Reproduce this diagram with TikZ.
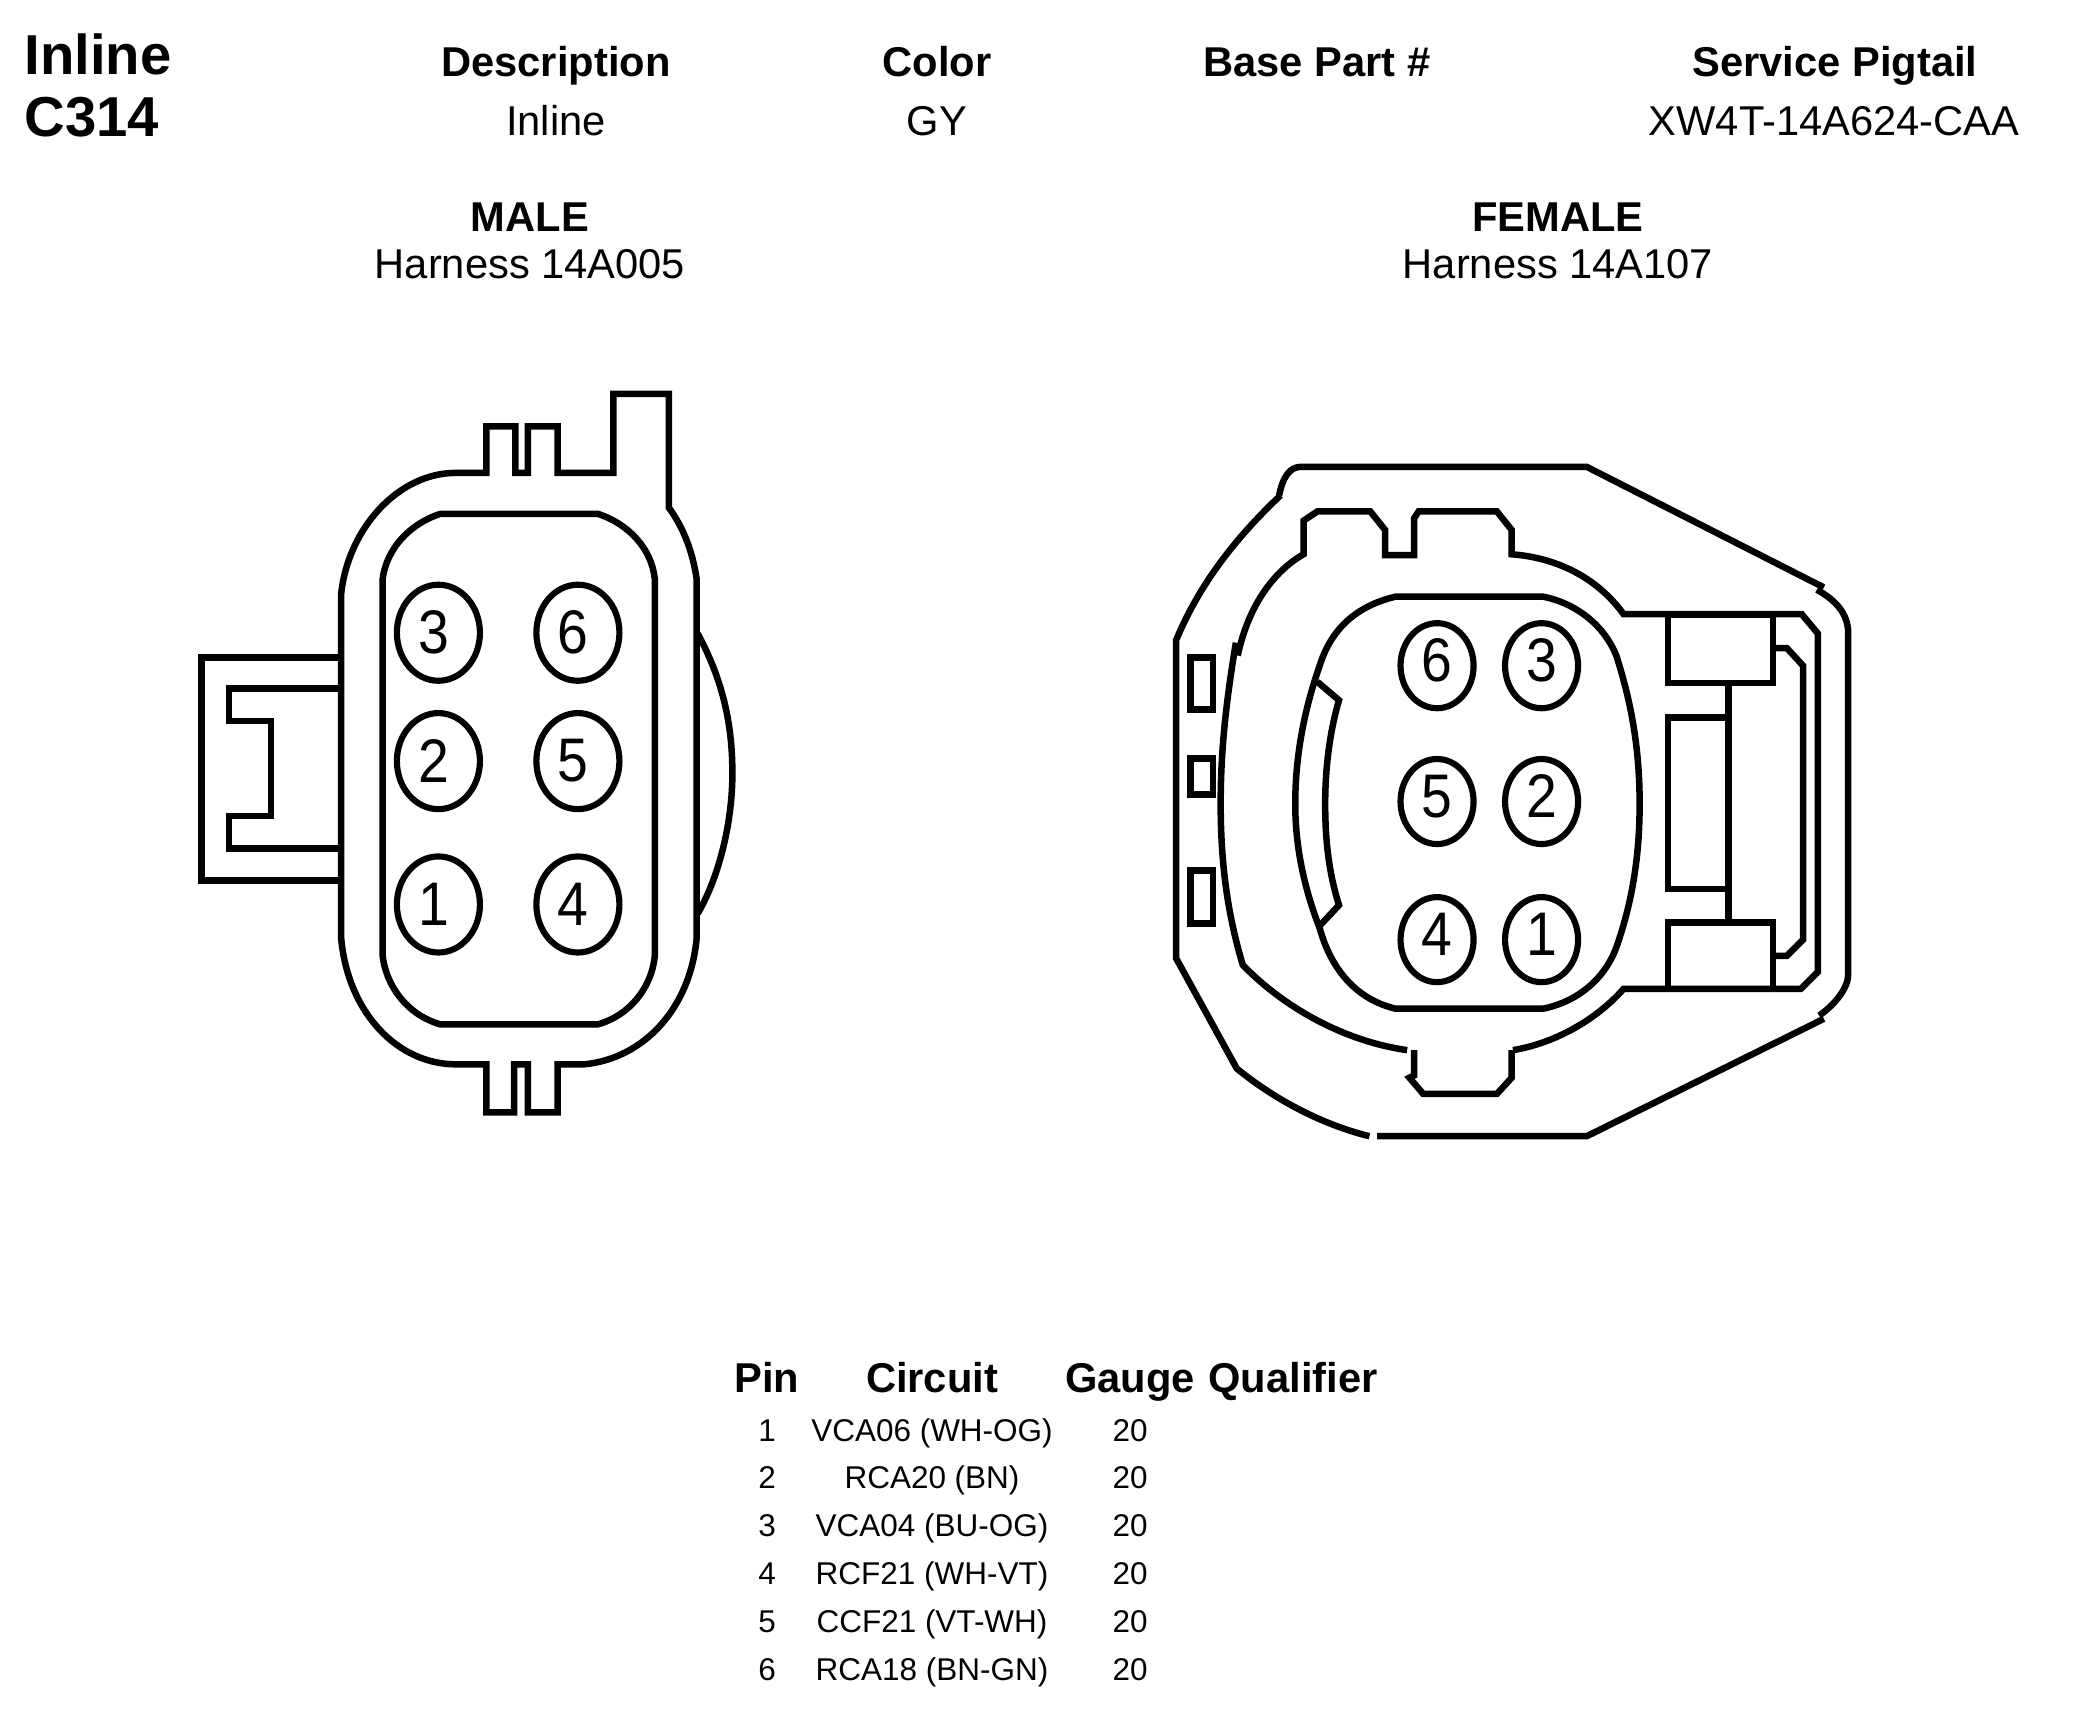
\documentclass[tikz,border=0pt]{standalone}
\usepackage{fontspec}
\usepackage{graphicx}
\setmainfont{Liberation Sans}
\usetikzlibrary{shapes.geometric}
\tikzset{
  plug/.style={line width=1.85pt,line join=miter},
  pinm/.style={ellipse,draw,line width=1.75pt,inner sep=0pt,minimum width=.83cm,minimum height=.96cm,font=\fontsize{17.5}{18}\selectfont},
  pinf/.style={pinm,minimum width=.73cm,minimum height=.85cm},
  head/.style={anchor=base,font=\fontsize{11.85}{14}\selectfont\bfseries},
  info/.style={anchor=base,font=\fontsize{11.85}{14}\selectfont},
  big/.style={anchor=base west,font=\fontsize{16}{18}\selectfont\bfseries},
  cell/.style={anchor=base,font=\fontsize{8.95}{11}\selectfont}
}
\begin{document}
\begin{tikzpicture}[x=.01cm,y=-.01cm]
\useasboundingbox (0,0) rectangle (2076,1724);
% title block
\node[big] (t1) at (12,74) {Inline};
\node[big] (t2) at (12,136) {C314};
\node[head] (h1) at (556,76) {Description};
\node[head] (h2) at (937,76) {Color};
\node[head] (h3) at (1317,76) {Base Part \#};
\node[head] (h4) at (1835,76) {Service Pigtail};
\node[info] (v1) at (556,135) {Inline};
\node[info] (v2) at (937,135) {GY};
\node[info] (v4) at (1834,135) {XW4T-14A624-CAA};
\node[head] (m1) at (530,231) {MALE};
\node[info] (m2) at (530,278) {Harness 14A005};
\node[head] (f1) at (1558,231) {FEMALE};
\node[info] (f2) at (1558,278) {Harness 14A107};
% male connector
\begin{scope}[shift={(179,369)},xscale=.3843,yscale=.4995]
\draw[plug] (800,208) -- (720,208) .. controls (570,208) and (440,320) .. (422,450) -- (422,1140)
  .. controls (440,1290) and (570,1392) .. (720,1392) -- (800,1392) -- (800,1488) -- (872,1488) -- (872,1392)
  -- (908,1392) -- (908,1488) -- (985,1488) -- (985,1392) -- (1055,1392)
  .. controls (1210,1380) and (1330,1280) .. (1347,1140) -- (1347,420)
  .. controls (1335,360) and (1310,315) .. (1275,278) -- (1275,50) -- (1130,50) -- (1130,208) -- (985,208)
  -- (985,115) -- (908,115) -- (908,208) -- (875,208) -- (875,115) -- (800,115) -- cycle;
\draw[plug] (680,290) -- (1090,290) .. controls (1170,310) and (1230,360) .. (1238,420) -- (1238,1175)
  .. controls (1230,1240) and (1170,1295) .. (1090,1312) -- (680,1312)
  .. controls (600,1295) and (540,1240) .. (530,1175) -- (530,420)
  .. controls (540,360) and (600,310) .. (680,290) -- cycle;
\draw[plug] (422,578) -- (58,578) -- (58,1024) -- (422,1024);
\draw[plug] (422,640) -- (130,640) -- (130,705) -- (240,705) -- (240,895) -- (130,895) -- (130,960) -- (422,960);
\draw[plug] (1350,530) .. controls (1420,630) and (1440,720) .. (1440,810) .. controls (1440,900) and (1410,1010) .. (1350,1090);
\foreach \n/\px/\py in {3/675/528,6/1038/528,2/675/785,5/1038/785,1/675/1072,4/1038/1072}
  \node[pinm] (male\n) at (\px,\py) {\scalebox{.9}[1]{\n}\kern2.7pt};
\end{scope}
% female connector
\begin{scope}[shift={(1158.5,449.3)},scale=.4604]
\draw[plug] (262,100) .. controls (270,60) and (285,38) .. (310,38) -- (930,38) -- (1445,300);
\draw[plug] (1430,305) .. controls (1475,330) and (1498,360) .. (1498,400) -- (1498,1140) .. controls (1498,1170) and (1470,1205) .. (1435,1230);
\draw[plug] (1445,1237) -- (930,1492) -- (475,1492);
\draw[plug] (458,1492) .. controls (350,1465) and (250,1410) .. (170,1345) -- (38,1105) -- (38,415)
  .. controls (90,290) and (170,190) .. (265,100);
\draw[plug] (172,448) .. controls (195,340) and (250,265) .. (315,228) -- (315,155) -- (345,135) -- (460,135) -- (492,175)
  -- (492,230) -- (555,230) -- (555,150) -- (565,135) -- (735,135) -- (767,175) -- (767,228)
  .. controls (860,235) and (950,275) .. (1010,358) -- (1397,358) -- (1432,400) -- (1432,1135) -- (1395,1172) -- (1010,1172)
  .. controls (950,1240) and (860,1290) .. (770,1305);
\draw[plug] (168,420) .. controls (145,560) and (135,660) .. (135,770) .. controls (135,900) and (150,1010) .. (183,1120)
  .. controls (270,1210) and (400,1285) .. (540,1305);
\draw[plug] (555,1305) -- (555,1360) -- (545,1365) -- (575,1400) -- (735,1400) -- (767,1365) -- (767,1305);
\draw[plug] (515,320) -- (835,320) .. controls (910,335) and (970,385) .. (995,450) .. controls (1030,560) and (1045,660) .. (1045,770)
  .. controls (1045,880) and (1030,980) .. (995,1080) .. controls (970,1150) and (910,1200) .. (835,1215) -- (515,1215)
  .. controls (430,1195) and (375,1130) .. (350,1040) .. controls (315,950) and (297,860) .. (297,770)
  .. controls (297,670) and (315,570) .. (350,470) .. controls (375,390) and (430,340) .. (515,320) -- cycle;
\draw[plug] (345,505) -- (392,545) .. controls (370,620) and (362,700) .. (362,770) .. controls (362,850) and (370,920) .. (392,990) -- (350,1035);
\draw[plug] (70,452) rectangle (118,565);
\draw[plug] (70,672) rectangle (118,750);
\draw[plug] (70,915) rectangle (118,1030);
\draw[plug] (1107,360) rectangle (1335,508);
\draw[plug] (1107,1028) rectangle (1335,1172);
\draw[plug] (1232,582) -- (1107,582) -- (1107,955) -- (1232,955);
\draw[plug] (1238,508) -- (1238,1028);
\draw[plug] (1340,432) -- (1365,432) -- (1400,470) -- (1400,1065) -- (1365,1100) -- (1340,1100);
\foreach \n/\px/\py in {6/605/470,3/832/470,5/605/765,2/832/765,4/605/1065,1/832/1065}
  \node[pinf] (female\n) at (\px,\py) {\scalebox{.9}[1]{\n}\rule[-3.2pt]{0pt}{3.2pt}};
\end{scope}
% pin table
\node[head] (p1) at (767,1392) {Pin};
\node[head] (p2) at (932,1392) {Circuit};
\node[head] (p3) at (1130,1392) {Gauge};
\node[head] (p4) at (1293,1392) {Qualifier};
\foreach \n/\y/\c in {1/1441/VCA06 (WH-OG),2/1488/RCA20 (BN),3/1536/VCA04 (BU-OG),4/1584/RCF21 (WH-VT),5/1632/CCF21 (VT-WH),6/1680/RCA18 (BN-GN)}{
  \node[cell] (r\n a) at (767,\y) {\n};
  \node[cell] (r\n b) at (932,\y) {\c};
  \node[cell] (r\n c) at (1130,\y) {20};
}
\end{tikzpicture}
\end{document}
